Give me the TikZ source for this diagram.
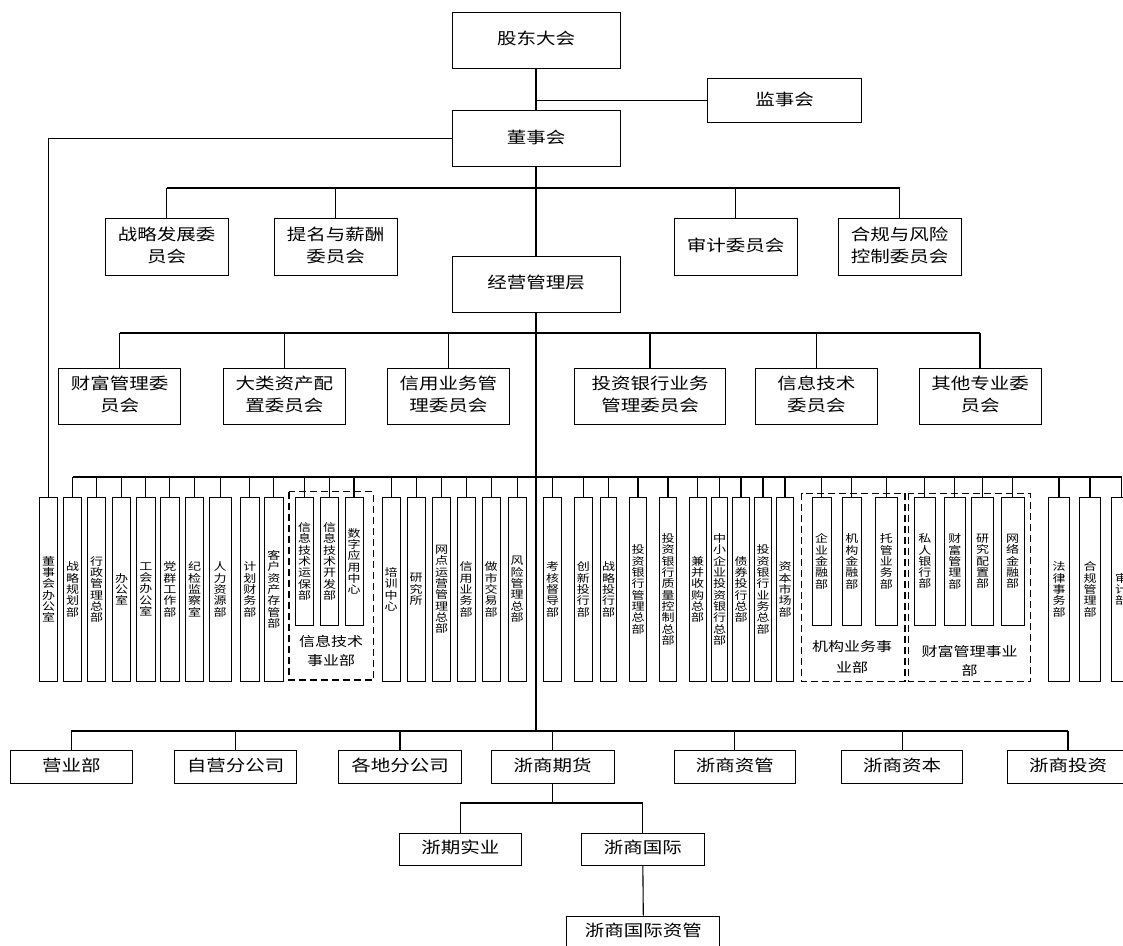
\documentclass[tikz,border=0pt]{standalone}
\usepackage{fontspec}
\usepackage{graphicx}
\setmainfont{Noto Sans CJK SC}
\newcommand\tx[1]{\scalebox{1}[0.82]{\begin{tabular}{@{}c@{}}#1\end{tabular}}}
\let\vtend\relax
\def\vtloop#1{\ifx#1\vtend\else\hbox to 13pt{\hss#1\hss}\expandafter\vtloop\fi}
\newcommand\vt[1]{\scalebox{1}[0.82]{\vbox{\baselineskip=13.8pt\lineskiplimit=-10pt\vtloop#1\vtend}}}
\tikzset{
  bx/.style={draw, line width=1pt, inner sep=0pt, align=center, fill=white,
    font=\fontsize{19.5}{26.5}\selectfont},
  col/.style={draw, line width=1pt, inner sep=0pt, fill=white,
    font=\fontsize{13}{13.8}\selectfont},
  ln/.style={line width=1.1pt},
  lnk/.style={line width=1.7pt},
  busA/.style={line width=2pt},
  trunkB/.style={line width=2.6pt},
  grp/.style={draw, dash pattern=on 7pt off 4pt, line width=1.5pt},
  glab/.style={inner sep=0pt, align=center}
}
\begin{document}
\begin{tikzpicture}[x=1pt,y=-1pt]
\useasboundingbox (0,0) rectangle (1123,945);
\clip (0,0) rectangle (1123,945);
\fill[white] (0,0) rectangle (1123,945);

% top level
\node[bx, minimum width=168pt, minimum height=55.6pt] (gd) at (536,40.5) {\tx{股东大会}};
\node[bx, minimum width=154pt, minimum height=44pt] (jsh) at (784.7,100.7) {\tx{监事会}};
\node[bx, minimum width=168pt, minimum height=56pt] (dsh) at (536,138.7) {\tx{董事会}};

% board committees
\node[bx, minimum width=123pt, minimum height=56.6pt] (zl) at (166.5,247) {\tx{战略发展委\\员会}};
\node[bx, minimum width=123pt, minimum height=56.6pt] (tm) at (335.5,247) {\tx{提名与薪酬\\委员会}};
\node[bx, minimum width=123pt, minimum height=56.6pt] (sj) at (735.5,247) {\tx{审计委员会}};
\node[bx, minimum width=123pt, minimum height=56.6pt] (hg) at (899.5,247) {\tx{合规与风险\\控制委员会}};

\node[bx, minimum width=168pt, minimum height=56pt] (jy) at (536,284) {\tx{经营管理层}};

% management committees
\node[bx, minimum width=122pt, minimum height=56pt] (cf) at (119.6,396) {\tx{财富管理委\\员会}};
\node[bx, minimum width=122pt, minimum height=56pt] (dl) at (284.3,396) {\tx{大类资产配\\置委员会}};
\node[bx, minimum width=122pt, minimum height=56pt] (xy) at (448.3,396) {\tx{信用业务管\\理委员会}};
\node[bx, minimum width=151pt, minimum height=56pt] (tz) at (650,396) {\tx{投资银行业务\\管理委员会}};
\node[bx, minimum width=122pt, minimum height=56pt] (xx) at (816.3,396) {\tx{信息技术\\委员会}};
\node[bx, minimum width=122pt, minimum height=56pt] (qt) at (980,396) {\tx{其他专业委\\员会}};

% bus coordinates
\coordinate (busA) at (536,188);
\coordinate (busB) at (536,333);
\coordinate (busC) at (536,477);
\coordinate (busD) at (536,731);
\coordinate (busE) at (536,803);

% dashed groups
\draw[grp] (289,491.7) rectangle (373.3,680);
\draw[grp] (801.7,493.3) rectangle (905,681.7);
\draw[grp] (908.3,493.3) rectangle (1030.7,681.7);
\node[glab, font=\fontsize{16}{22.8}\selectfont] (gl1) at (331.2,652.3) {\tx{信息技术\\事业部}};
\node[glab, font=\fontsize{16}{26}\selectfont] (gl2) at (852,657.5) {\tx{机构业务事\\业部}};
\node[glab, font=\fontsize{16}{23}\selectfont] (gl3) at (969.5,662) {\tx{财富管理事业\\部}};

% departments
\foreach \n/\x/\w/\lab in {
 d1/48.5/18.4/董事会办公室, d2/72.5/18.4/战略规划部, d3/96.5/18.4/行政管理总部,
 d4/121.5/18.4/办公室, d5/145.85/18.3/工会办公室, d6/169.85/18.3/党群工作部,
 d7/194.5/18.4/纪检监察室, d8/220.15/21.7/人力资源部, d9/249.85/18.3/计划财务部,
 d10/273.85/18.3/客户资产存管部, d11/391.15/18.3/培训中心, d12/416.15/18.3/研究所,
 d13/441.5/18.4/网点运营管理总部, d14/466.15/18.3/信用业务部, d15/491.15/18.3/做市交易部,
 d16/517.15/18.3/风险管理总部, d17/552.5/18.4/考核督导部, d18/583.3/18/创新投行部,
 d19/608.5/16.4/战略投行部, d20/638/17.4/投资银行管理总部, d21/668/17.4/投资银行质量控制总部,
 d22/697.65/16.7/兼并收购总部, d23/719.7/16/中小企业投资银行总部, d24/741/16.6/债券投行总部,
 d25/763/17.4/投资银行业务总部, d26/785/16.6/资本市场部, d27/1059/20.6/法律事务部,
 d28/1090/21.4/合规管理部, d29/1121.5/21/审计部}
 {\node[col, minimum width=\w pt, minimum height=183.3pt] (\n) at (\x,589.35) {\expandafter\vt\expandafter{\lab}};}
\foreach \n/\x/\w/\lab in {
 i1/304.7/18/信息技术运保部, i2/329.7/18/信息技术开发部, i3/354/18/数字应用中心,
 j1/821.65/18.7/企业金融部, j2/851.85/18.3/机构金融部, j3/886.35/21.3/托管业务部,
 w1/924.85/21.7/私人银行部, w2/954.8/21/财富管理部, w3/982.5/21.6/研究配置部,
 w4/1012.65/23.3/网络金融部}
 {\node[col, minimum width=\w pt, minimum height=127.3pt] (\n) at (\x,561.35) {\expandafter\vt\expandafter{\lab}};}

% subsidiaries
\node[bx, minimum width=122.5pt, minimum height=32.6pt] (b1) at (71.25,767) {\tx{营业部}};
\node[bx, minimum width=122pt, minimum height=32.6pt] (b2) at (235.7,767) {\tx{自营分公司}};
\node[bx, minimum width=122.5pt, minimum height=32.6pt] (b3) at (400,767) {\tx{各地分公司}};
\node[bx, minimum width=122.6pt, minimum height=32.6pt] (b4) at (552.7,767) {\tx{浙商期货}};
\node[bx, minimum width=121.8pt, minimum height=32.6pt] (b5) at (734.9,767) {\tx{浙商资管}};
\node[bx, minimum width=121pt, minimum height=32.6pt] (b6) at (902.2,767) {\tx{浙商资本}};
\node[bx, minimum width=122pt, minimum height=32.6pt] (b7) at (1068,767) {\tx{浙商投资}};
\node[bx, minimum width=122.5pt, minimum height=32pt] (f1) at (460.25,849.3) {\tx{浙期实业}};
\node[bx, minimum width=122.3pt, minimum height=32pt] (f2) at (642.85,849.3) {\tx{浙商国际}};
\node[bx, minimum width=153.3pt, minimum height=32pt] (f3) at (643.3,932) {\tx{浙商国际资管}};

% connectors: top
\draw[lnk] (gd.south) -- (dsh.north);
\draw[ln] (jsh.west) -- (jsh.west -| gd.south);
\draw[ln] (dsh.west) -| (d1.north);
\draw[lnk] (dsh.south) -- (jy.north);
\draw[busA] (zl.north |- busA) -- (hg.north |- busA);
\foreach \n in {zl,tm,sj,hg} \draw[ln] (\n.north) -- (\n.north |- busA);
% management
\draw[trunkB] (jy.south) -- (busD);
\draw[busA] (cf.north |- busB) -- (qt.north |- busB);
\foreach \n in {cf,dl,xy,tz,xx,qt} \draw[ln] (\n.north) -- (\n.north |- busB);
% departments
\draw[trunkB] (d2.north |- busC) -- (d29.north |- busC);
\foreach \n in {d2,d3,d4,d5,d6,d7,d8,d9,d10,i1,i2,i3,d11,d12,d13,d14,d15,d16,d17,d18,d19,d20,d21,d22,d23,d24,d25,d26,j1,j2,j3,w1,w2,w3,w4,d27,d28,d29}
  \draw[ln] (\n.north) -- (\n.north |- busC);
% subsidiaries
\draw[line width=1.5pt] (b1.north |- busD) -- (b7.north |- busD);
\foreach \n in {b1,b2,b3,b4,b5,b6,b7} \draw[ln] (\n.north) -- (\n.north |- busD);
\draw[ln] (b4.south) -- (b4.south |- busE);
\draw[line width=1.5pt] (f1.north |- busE) -- (f2.north |- busE);
\draw[ln] (f1.north) -- (f1.north |- busE);
\draw[ln] (f2.north) -- (f2.north |- busE);
\draw[ln] (f2.south) -- (f3.north);
\end{tikzpicture}
\end{document}
